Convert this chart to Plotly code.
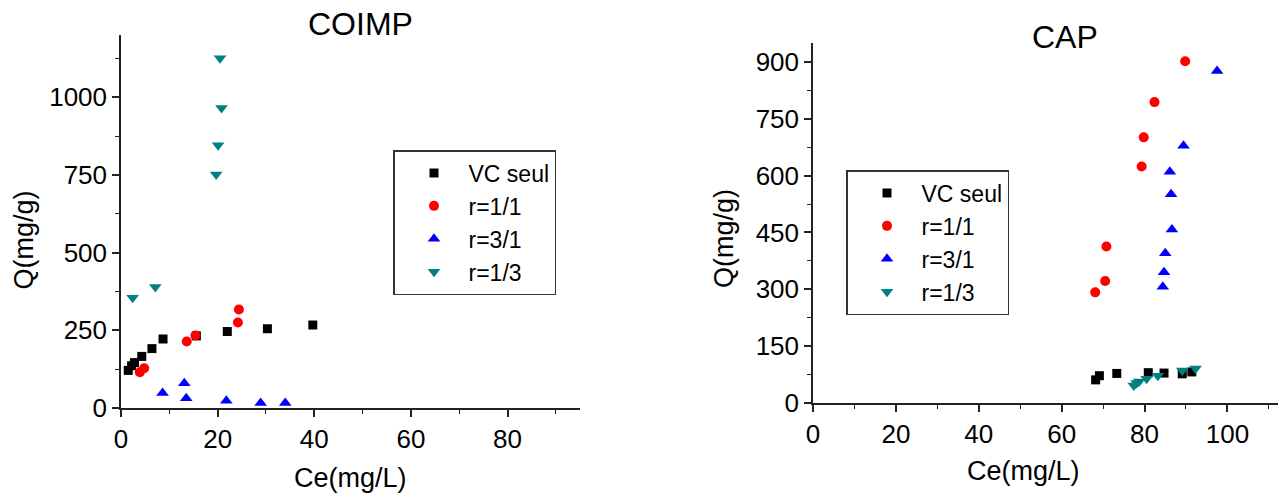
import plotly.graph_objects as go

# ---------------- data ----------------
series_names = ["VC seul", "r=1/1", "r=3/1", "r=1/3"]

# COIMP panel
coimp_vc_x = [1.5, 2.2, 2.8, 4.3, 6.4, 8.7, 15.6, 22.0, 30.3, 39.7]
coimp_vc_y = [121, 136, 146, 166, 191, 222, 232, 246, 255, 267]
coimp_r11_x = [3.9, 4.8, 13.6, 15.4, 24.2, 24.4]
coimp_r11_y = [115, 128, 214, 233, 275, 317]
coimp_r31_x = [8.6, 13.1, 13.5, 21.8, 28.9, 34.0]
coimp_r31_y = [48, 80, 31, 23, 16, 16]
coimp_r13_x = [2.4, 7.1, 19.7, 20.1, 20.8, 20.5]
coimp_r13_y = [355, 389, 751, 845, 965, 1125]

# CAP panel
cap_vc_x = [68.2, 69.1, 73.3, 80.9, 84.7, 89.1, 91.4]
cap_vc_y = [61, 72, 78, 80, 79, 77, 82]
cap_r11_x = [68.1, 70.5, 70.8, 79.3, 79.8, 82.4, 89.8]
cap_r11_y = [292, 322, 413, 624, 701, 794, 902]
cap_r31_x = [84.4, 84.7, 85.0, 86.6, 86.4, 86.1, 89.4, 97.5]
cap_r31_y = [307, 345, 395, 458, 551, 610, 679, 876]
cap_r13_x = [77.4, 78.1, 78.7, 80.5, 83.2, 89.1, 92.3]
cap_r13_y = [46, 53, 57, 64, 72, 86, 91]

coimp_x_ticks = [0, 20, 40, 60, 80]
coimp_y_ticks = [0, 250, 500, 750, 1000]
cap_x_ticks = [0, 20, 40, 60, 80, 100]
cap_y_ticks = [0, 150, 300, 450, 600, 750, 900]

# ---------------- styles ----------------
colors = ["#000000", "#FF0000", "#0000FF", "#008080"]
symbols = ["square", "circle", "triangle-up", "triangle-down"]
sizes = [9, 10, 11, 11]
FONT = "Arial, Liberation Sans, sans-serif"

W, H = 1279, 497

fig = go.Figure()

coimp = [(coimp_vc_x, coimp_vc_y), (coimp_r11_x, coimp_r11_y),
         (coimp_r31_x, coimp_r31_y), (coimp_r13_x, coimp_r13_y)]
cap = [(cap_vc_x, cap_vc_y), (cap_r11_x, cap_r11_y),
       (cap_r31_x, cap_r31_y), (cap_r13_x, cap_r13_y)]

for i, (xs, ys) in enumerate(coimp):
    fig.add_trace(go.Scatter(
        x=xs, y=ys, mode="markers", name=series_names[i],
        marker=dict(symbol=symbols[i], color=colors[i], size=sizes[i], line=dict(width=0)),
        xaxis="x", yaxis="y", legend="legend", cliponaxis=False))

for i, (xs, ys) in enumerate(cap):
    fig.add_trace(go.Scatter(
        x=xs, y=ys, mode="markers", name=series_names[i],
        marker=dict(symbol=symbols[i], color=colors[i], size=sizes[i], line=dict(width=0)),
        xaxis="x2", yaxis="y2", legend="legend2", cliponaxis=False))


def px_x(p):
    return p / W


def px_y(p):
    return (H - p) / H


def axis_common(tickvals, minor_dtick, rng, domain, anchor):
    return dict(
        domain=domain, range=rng, anchor=anchor, automargin=False,
        tickvals=tickvals, ticktext=[str(v) for v in tickvals],
        showline=True, linecolor="#222", linewidth=1.5,
        ticks="outside", ticklen=7, tickwidth=1.5, tickcolor="#222",
        minor=dict(ticks="outside", ticklen=4, tickwidth=1.2, tickcolor="#222",
                   dtick=minor_dtick, tick0=0, showgrid=False),
        showgrid=False, zeroline=False,
        tickfont=dict(family=FONT, size=26, color="black"),
        fixedrange=True,
    )


legend_style = dict(xanchor="left", yanchor="top",
                    bordercolor="#333", borderwidth=1.5, bgcolor="rgba(255,255,255,0)",
                    font=dict(family=FONT, size=23, color="black"),
                    itemwidth=59, indentation=5, tracegroupgap=0)

fig.update_layout(
    width=W, height=H,
    margin=dict(l=0, r=0, t=0, b=0),
    paper_bgcolor="white", plot_bgcolor="white",
    font=dict(family=FONT, color="black"),
    xaxis=axis_common(coimp_x_ticks, 10, [0, 95], [px_x(121), px_x(580)], "y"),
    yaxis=axis_common(coimp_y_ticks, 125, [0, 1200], [px_y(408), px_y(35)], "x"),
    xaxis2=axis_common(cap_x_ticks, 10, [0, 112.2], [px_x(813), px_x(1278)], "y2"),
    yaxis2=axis_common(cap_y_ticks, 75, [0, 950], [px_y(403), px_y(43)], "x2"),
    legend=dict(x=px_x(393), y=px_y(150), **legend_style),
    legend2=dict(x=px_x(846), y=px_y(170), **legend_style),
    showlegend=True,
)

annots = [
    dict(text="COIMP", x=px_x(360), y=px_y(24), size=32, angle=0),
    dict(text="CAP", x=px_x(1065), y=px_y(37), size=32, angle=0),
    dict(text="Ce(mg/L)", x=px_x(350.5), y=px_y(477.5), size=27, angle=0),
    dict(text="Ce(mg/L)", x=px_x(1023.5), y=px_y(471.5), size=27, angle=0),
    dict(text="Q(mg/g)", x=px_x(23.5), y=px_y(240), size=27, angle=-90),
    dict(text="Q(mg/g)", x=px_x(723.5), y=px_y(238.5), size=27, angle=-90),
]
for a in annots:
    fig.add_annotation(text=a["text"], x=a["x"], y=a["y"], xref="paper", yref="paper",
                       xanchor="center", yanchor="middle", showarrow=False,
                       textangle=a["angle"],
                       font=dict(family=FONT, size=a["size"], color="black"))

fig.write_html("out.html")
